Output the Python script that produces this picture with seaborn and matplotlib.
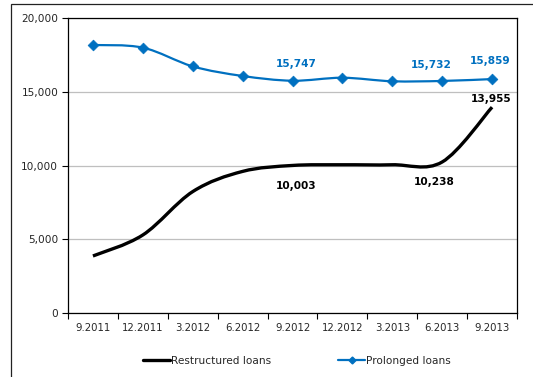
import numpy as np
import pandas as pd
import matplotlib
matplotlib.use("Agg")
import matplotlib.pyplot as plt
from matplotlib.path import Path
from matplotlib.patches import PathPatch, Rectangle
from matplotlib.lines import Line2D
import seaborn as sns

# Quarterly loan portfolio, millions
quarters = ["9.2011", "12.2011", "3.2012", "6.2012", "9.2012",
            "12.2012", "3.2013", "6.2013", "9.2013"]
restructured = [3866, 5290, 8230, 9600, 10003, 10050, 10050, 10238, 13955]
prolonged = [18170, 17990, 16720, 16070, 15747, 15950, 15710, 15732, 15859]

# Which points carry a value label
restructured_labelled = ["9.2012", "6.2013", "9.2013"]
prolonged_labelled = ["9.2012", "6.2013", "9.2013"]

BLUE = "#0070C0"
W, H = 533, 377

sns.set_theme(style="white")
plt.rcParams["font.family"] = ["DejaVu Sans"]

df = pd.DataFrame({"quarter": quarters,
                   "Restructured loans": restructured,
                   "Prolonged loans": prolonged})
df["pos"] = np.arange(len(quarters))

fig = plt.figure(figsize=(W / 100, H / 100), dpi=100)
ax = fig.add_axes([68 / W, (H - 313) / H, (517 - 68) / W, (313 - 18) / H])

# Outer chart frame
fig.patches.append(Rectangle((11 / W, -0.05), 1.1, (H - 4) / H + 0.05,
                             transform=fig.transFigure, fill=False,
                             edgecolor="#222222", linewidth=0.9))


def smooth_path(xs, ys):
    """Cubic Bezier path through the points (Catmull-Rom style smoothing)."""
    pts = np.column_stack([xs, ys]).astype(float)
    n = len(pts)
    verts = [pts[0]]
    codes = [Path.MOVETO]
    for i in range(n - 1):
        p0 = pts[max(i - 1, 0)]
        p1 = pts[i]
        p2 = pts[i + 1]
        p3 = pts[min(i + 2, n - 1)]
        c1 = p1 + (p2 - p0) / 6.0
        c2 = p2 - (p3 - p1) / 6.0
        verts += [c1, c2, p2]
        codes += [Path.CURVE4] * 3
    return Path(verts, codes)


ax.add_patch(PathPatch(smooth_path(df["pos"], df["Restructured loans"]),
                       fill=False, edgecolor="black", linewidth=2.4,
                       capstyle="butt", zorder=3))
ax.add_patch(PathPatch(smooth_path(df["pos"], df["Prolonged loans"]),
                       fill=False, edgecolor=BLUE, linewidth=1.6, zorder=3))
sns.scatterplot(data=df, x="pos", y="Prolonged loans", marker="D", s=30,
                color=BLUE, edgecolor=BLUE, linewidth=0.5, ax=ax, zorder=4,
                legend=False)

ax.set_xlim(-0.5, len(quarters) - 0.5)
ax.set_ylim(0, 20000)
ax.set_yticks([0, 5000, 10000, 15000, 20000])
ax.set_yticklabels([f"{v:,}" for v in [0, 5000, 10000, 15000, 20000]],
                   fontsize=7.6)
ax.set_xticks(np.arange(len(quarters) + 1) - 0.5)
ax.set_xticklabels([])
ax.set_xticks(np.arange(len(quarters)), minor=True)
ax.set_xticklabels(quarters, minor=True, fontsize=7.3)
ax.tick_params(axis="x", which="major", direction="out", length=4,
               width=0.8, color="black", bottom=True)
ax.tick_params(axis="x", which="minor", length=0, pad=7)
ax.tick_params(axis="y", direction="out", length=4, width=0.8,
               color="black", left=True, pad=3)
ax.set_xlabel("")
ax.set_ylabel("")
ax.yaxis.grid(True, color="#BFBFBF", linewidth=0.9)
ax.set_axisbelow(True)
for s in ax.spines.values():
    s.set_color("black")
    s.set_linewidth(0.9)

# Value labels
offsets_blue = {"9.2012": (4, 12), "6.2013": (-11, 11), "9.2013": (-2, 13)}
for q in prolonged_labelled:
    i = quarters.index(q)
    v = prolonged[i]
    dx, dy = offsets_blue[q]
    ax.annotate(f"{v:,}", (i, v), xytext=(dx, dy), textcoords="offset pixels",
                ha="center", va="bottom", color=BLUE, fontsize=7.6,
                fontweight="bold")
offsets_black = {"9.2012": (4, -16), "6.2013": (-8, -15), "9.2013": (-1, 3)}
for q in restructured_labelled:
    i = quarters.index(q)
    v = restructured[i]
    dx, dy = offsets_black[q]
    ax.annotate(f"{v:,}", (i, v), xytext=(dx, dy), textcoords="offset pixels",
                ha="center", va="top" if dy < 0 else "bottom", color="black",
                fontsize=7.6, fontweight="bold")

handles = [Line2D([], [], color="black", linewidth=2.4),
           Line2D([], [], color=BLUE, linewidth=1.6, marker="D",
                  markersize=3.5)]
fig.legend(handles, ["Restructured loans", "Prolonged loans"],
           loc="center", bbox_to_anchor=(297 / W, (H - 361) / H), ncol=2,
           frameon=False, fontsize=7.6, handlelength=2.6, handletextpad=0.1,
           columnspacing=6.3)

fig.savefig("out.png", dpi=100)
